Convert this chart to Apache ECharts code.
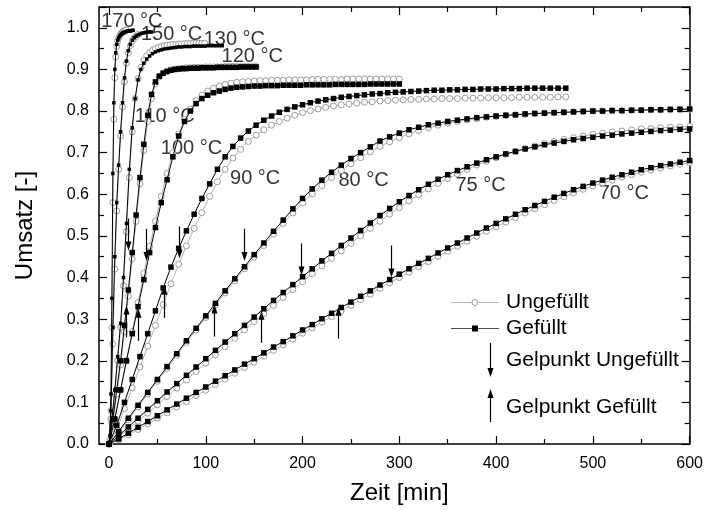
<!DOCTYPE html>
<html><head><meta charset="utf-8">
<script src="https://cdn.jsdelivr.net/npm/echarts@6/dist/echarts.min.js"></script>
<style>html,body{margin:0;padding:0;background:#fff}#chart{width:706px;height:510px}</style>
</head><body><div id="chart"></div>
<script>
// Conversion (Umsatz) over time (min) per cure temperature, unfilled vs. filled resin.
const tLong = [0,10,20,30,40,50,60,70,80,90,100,110,120,130,140,150,160,170,180,190,200,210,220,230,240,250,260,270,280,290,300,310,320,330,340,350,360,370,380,390,400,410,420,430,440,450,460,470,480,490,500,510,520,530,540,550,560,570,580,590,600];
const t170 = [0,1,2,3,4,5,6,7,8,9,10,11,12,13,14,15,16,17,18,19,20,21,22,23,24,25];
const t150 = [0,2,4,6,8,10,12,14,16,18,20,22,24,26,28,30,32,34,36,38,40,42,44];
const t130 = [0,3,6,9,12,15,18,21,24,27,30,33,36,39,42,45,48,51,54,57,60,63,66,69,72,75,78,81,84,87,90,93,96,99,102,105,108,111,114,117];
const t120 = [0,4,8,12,16,20,24,28,32,36,40,44,48,52,56,60,64,68,72,76,80,84,88,92,96,100,104,108,112,116,120,124,128,132,136,140,144,148,152];
const t110 = [0,6,12,18,24,30,36,42,48,54,60,66,72,78,84,90,96,102,108,114,120,126,132,138,144,150,156,162,168,174,180,186,192,198,204,210,216,222,228,234,240,246,252,258,264,270,276,282,288,294,300];
const t100 = [0,8,16,24,32,40,48,56,64,72,80,88,96,104,112,120,128,136,144,152,160,168,176,184,192,200,208,216,224,232,240,248,256,264,272,280,288,296,304,312,320,328,336,344,352,360,368,376,384,392,400,408,416,424,432,440,448,456,464,472];

// Gefüllt (filled)
const g170 = [0,0.02,0.12,0.35,0.65,0.82,0.9,0.94,0.96,0.97,0.976,0.98,0.983,0.985,0.987,0.988,0.989,0.99,0.991,0.992,0.992,0.993,0.993,0.993,0.994,0.994];
const g150 = [0,0.08,0.28,0.45,0.58,0.67,0.75,0.82,0.88,0.92,0.945,0.96,0.97,0.976,0.98,0.983,0.985,0.987,0.988,0.989,0.99,0.99,0.99];
const g130 = [0,0.06,0.13,0.21,0.29,0.4,0.53,0.66,0.76,0.83,0.875,0.9,0.915,0.925,0.932,0.938,0.942,0.945,0.947,0.949,0.95,0.951,0.952,0.953,0.954,0.954,0.955,0.955,0.955,0.956,0.956,0.956,0.956,0.956,0.957,0.957,0.957,0.957,0.957,0.957];
const g120 = [0,0.06,0.13,0.2,0.285,0.37,0.46,0.55,0.64,0.72,0.79,0.84,0.87,0.884,0.891,0.895,0.898,0.9,0.901,0.902,0.902,0.903,0.903,0.903,0.904,0.904,0.904,0.904,0.905,0.905,0.905,0.905,0.905,0.905,0.906,0.906,0.906,0.906,0.906];
const g110 = [0,0.06,0.13,0.2,0.265,0.33,0.395,0.46,0.52,0.58,0.635,0.69,0.74,0.775,0.8,0.818,0.83,0.838,0.844,0.848,0.852,0.855,0.857,0.858,0.859,0.86,0.86,0.861,0.861,0.861,0.862,0.862,0.862,0.862,0.863,0.863,0.863,0.863,0.863,0.864,0.864,0.864,0.864,0.864,0.864,0.865,0.865,0.865,0.865,0.865,0.865];
const g100 = [0,0.045,0.1,0.155,0.21,0.265,0.32,0.375,0.425,0.47,0.512,0.552,0.59,0.625,0.66,0.69,0.715,0.735,0.752,0.766,0.778,0.788,0.797,0.804,0.81,0.815,0.82,0.824,0.827,0.83,0.833,0.835,0.837,0.839,0.841,0.842,0.844,0.845,0.846,0.847,0.848,0.849,0.85,0.85,0.851,0.851,0.852,0.852,0.853,0.853,0.853,0.854,0.854,0.854,0.855,0.855,0.855,0.855,0.855,0.855];
const g90 = [0,0.03,0.062,0.093,0.124,0.155,0.186,0.217,0.248,0.278,0.308,0.338,0.368,0.397,0.426,0.455,0.483,0.511,0.538,0.565,0.59,0.613,0.634,0.653,0.67,0.686,0.7,0.714,0.728,0.738,0.747,0.755,0.761,0.767,0.771,0.775,0.778,0.781,0.784,0.786,0.788,0.79,0.791,0.793,0.794,0.795,0.796,0.797,0.798,0.799,0.8,0.8,0.801,0.801,0.802,0.802,0.803,0.803,0.804,0.804,0.805];
const g80 = [0,0.02,0.041,0.062,0.083,0.104,0.125,0.145,0.165,0.185,0.205,0.225,0.245,0.265,0.285,0.305,0.325,0.345,0.364,0.383,0.402,0.421,0.44,0.458,0.477,0.495,0.513,0.531,0.549,0.566,0.582,0.597,0.611,0.624,0.636,0.647,0.657,0.666,0.675,0.683,0.69,0.697,0.703,0.709,0.714,0.719,0.723,0.727,0.731,0.734,0.737,0.74,0.742,0.745,0.747,0.749,0.751,0.753,0.754,0.756,0.757];
const g70 = [0,0.012,0.026,0.04,0.054,0.068,0.082,0.096,0.11,0.124,0.137,0.151,0.164,0.178,0.192,0.205,0.219,0.233,0.246,0.26,0.274,0.287,0.301,0.314,0.328,0.341,0.355,0.368,0.382,0.395,0.408,0.421,0.434,0.446,0.459,0.471,0.483,0.495,0.507,0.519,0.53,0.541,0.552,0.563,0.573,0.583,0.593,0.602,0.611,0.619,0.627,0.634,0.641,0.647,0.653,0.659,0.664,0.669,0.673,0.677,0.681];

// Ungefüllt (unfilled)
const u170 = [0,0.01,0.08,0.28,0.58,0.78,0.88,0.93,0.955,0.968,0.976,0.981,0.985,0.988,0.99,0.992,0.993,0.994,0.995];
const u150 = [0,0.06,0.24,0.42,0.56,0.66,0.74,0.81,0.87,0.915,0.94,0.957,0.968,0.975,0.98,0.984];
const u130 = [0,0.05,0.12,0.2,0.28,0.38,0.51,0.64,0.75,0.83,0.878,0.905,0.922,0.933,0.941,0.946,0.95,0.953,0.955,0.957,0.958,0.959,0.96,0.96,0.961,0.961,0.962,0.962,0.962,0.963,0.963,0.963,0.963,0.963];
const u120 = [0,0.05,0.12,0.19,0.27,0.355,0.445,0.535,0.625,0.705,0.775,0.83,0.865,0.882,0.891,0.896,0.899,0.901,0.902,0.903,0.904,0.904,0.905,0.905,0.905,0.906,0.906,0.906,0.906,0.906,0.907,0.907,0.907,0.907,0.907,0.907,0.907,0.907,0.907];
const u110 = [0,0.06,0.13,0.2,0.27,0.34,0.41,0.475,0.535,0.595,0.65,0.7,0.745,0.78,0.805,0.825,0.838,0.848,0.855,0.86,0.864,0.867,0.869,0.87,0.871,0.872,0.873,0.873,0.874,0.874,0.874,0.875,0.875,0.875,0.875,0.876,0.876,0.876,0.876,0.876,0.876,0.877,0.877,0.877,0.877,0.877,0.877,0.877,0.877,0.877,0.877];
const u100 = [0,0.035,0.085,0.135,0.185,0.235,0.285,0.335,0.385,0.432,0.476,0.518,0.556,0.595,0.63,0.66,0.687,0.708,0.727,0.742,0.755,0.766,0.775,0.783,0.79,0.796,0.801,0.805,0.809,0.812,0.815,0.817,0.819,0.821,0.822,0.824,0.825,0.826,0.827,0.828,0.828,0.829,0.829,0.83,0.83,0.83,0.831,0.831,0.831,0.832,0.832,0.832,0.832,0.833,0.833,0.833,0.833,0.833,0.834,0.834];
const u90 = [0,0.027,0.058,0.089,0.12,0.151,0.182,0.213,0.244,0.274,0.304,0.334,0.363,0.392,0.421,0.449,0.477,0.504,0.53,0.555,0.579,0.601,0.621,0.64,0.657,0.673,0.688,0.702,0.715,0.726,0.736,0.745,0.753,0.76,0.766,0.771,0.775,0.779,0.782,0.785,0.787,0.789,0.791,0.792,0.794,0.795,0.796,0.797,0.798,0.799,0.8,0.8,0.801,0.801,0.802,0.802,0.803,0.803,0.803,0.804,0.804];
const u80 = [0,0.017,0.036,0.055,0.074,0.094,0.114,0.134,0.154,0.174,0.194,0.214,0.234,0.254,0.274,0.294,0.313,0.333,0.352,0.371,0.39,0.409,0.428,0.446,0.464,0.482,0.5,0.518,0.535,0.552,0.568,0.584,0.599,0.613,0.626,0.638,0.649,0.66,0.67,0.679,0.688,0.696,0.703,0.71,0.716,0.722,0.727,0.732,0.736,0.74,0.744,0.747,0.75,0.752,0.755,0.757,0.758,0.76,0.761,0.762,0.763];
const u70 = [0,0.01,0.022,0.035,0.048,0.062,0.075,0.089,0.102,0.116,0.129,0.143,0.156,0.17,0.184,0.197,0.211,0.225,0.238,0.252,0.266,0.279,0.293,0.306,0.32,0.333,0.347,0.36,0.374,0.387,0.4,0.413,0.426,0.438,0.451,0.463,0.475,0.487,0.499,0.511,0.522,0.533,0.544,0.555,0.565,0.575,0.585,0.594,0.603,0.612,0.62,0.627,0.634,0.641,0.647,0.653,0.658,0.663,0.668,0.672,0.676];

// Gel points (time, conversion at the arrow tip)
const gelFilledT = [18, 30, 57, 109, 157, 237];
const gelFilledU = [0.333, 0.325, 0.38, 0.335, 0.32, 0.33];
const gelUnfilledT = [20, 38, 72, 140, 198, 291];
const gelUnfilledU = [0.465, 0.44, 0.446, 0.44, 0.405, 0.40];

// Temperature labels: text and anchor (time, conversion)
const tempNames = ['170 °C','150 °C','130 °C','120 °C','110 °C','100 °C','90 °C','80 °C','75 °C','70 °C'];
const tempLabelT = [23.6, 64.7, 129.5, 148, 57.6, 85.3, 151, 263, 384, 532];
const tempLabelU = [1.014, 0.983, 0.971, 0.93, 0.786, 0.711, 0.639, 0.632, 0.622, 0.603];

const curves = [
  {t: t170, g: g170, u: u170, small: true},
  {t: t150, g: g150, u: u150, small: true},
  {t: t130, g: g130, u: u130, small: true},
  {t: t120, g: g120, u: u120},
  {t: t110, g: g110, u: u110},
  {t: t100, g: g100, u: u100},
  {t: tLong, g: g90, u: u90},
  {t: tLong, g: g80, u: u80},
  {t: tLong, g: g70, u: u70}
];

const FONT = 'Liberation Sans, Arial, Helvetica, sans-serif';
const G = {left: 109, right: 13, top: 7, bottom: 66};
const frameLeft = 99;

function pairs(ts, us) { return us.map((u, i) => [ts[i], u]); }

const series = [];
series.push({
  type: 'scatter', z: 1, silent: true, symbolSize: 0,
  data: tempNames.map((n, i) => ({value: [tempLabelT[i], tempLabelU[i]], name: n})),
  label: {show: true, position: 'inside', formatter: p => p.name, fontFamily: FONT, fontSize: 20, color: '#000'}
});
curves.forEach(c => {
  series.push({
    type: 'line', z: 2, silent: true, showAllSymbol: true, clip: false,
    data: pairs(c.t, c.u),
    symbol: 'circle', symbolSize: 6,
    itemStyle: {color: '#fff', borderColor: '#9c9c9c', borderWidth: 1},
    lineStyle: {color: '#b4b4b4', width: 1}
  });
});
curves.forEach(c => {
  series.push({
    type: 'line', z: 3, silent: true, showAllSymbol: true, clip: false,
    data: pairs(c.t, c.g),
    symbol: 'rect', symbolSize: c.small ? 3.5 : 5.5,
    itemStyle: {color: '#000'},
    lineStyle: {color: '#000', width: 1}
  });
});

// Gel point arrows: dir 1 = pointing up (filled), -1 = pointing down (unfilled)
const arrowData = gelFilledT.map((t, i) => [t, gelFilledU[i], 1])
  .concat(gelUnfilledT.map((t, i) => [t, gelUnfilledU[i], -1]));
series.push({
  type: 'custom', z: 4, silent: true, clip: false,
  data: arrowData,
  renderItem: (params, api) => {
    const p = api.coord([api.value(0), api.value(1)]);
    const d = api.value(2);
    const len = 32, hw = 3, hl = 9;
    const x = Math.round(p[0]) + 0.5, y = p[1];
    const s = d === 1 ? 1 : -1;
    return {
      type: 'group',
      children: [
        {type: 'line', shape: {x1: x, y1: y + s * len, x2: x, y2: y + s * (hl - 1)}, style: {stroke: '#000', lineWidth: 1.2}},
        {type: 'polygon', shape: {points: [[x - hw, y + s * hl], [x + hw, y + s * hl], [x, y]]}, style: {fill: '#000'}}
      ]
    };
  }
});

const axisLineStyle = {color: '#000', width: 1.5};
const tickStyle = {color: '#000', width: 1.2};
const option = {
  animation: false,
  backgroundColor: '#fff',
  grid: {left: G.left, right: G.right, top: G.top, bottom: G.bottom, containLabel: false},
  xAxis: [
    {type: 'value', min: 0, max: 600, interval: 100, position: 'bottom',
     axisLine: {show: true, onZero: false, lineStyle: axisLineStyle},
     axisTick: {show: true, inside: true, length: 8, lineStyle: tickStyle},
     minorTick: {show: true, splitNumber: 2, length: 5, lineStyle: tickStyle},
     splitLine: {show: false},
     axisLabel: {fontFamily: FONT, fontSize: 16, color: '#000', margin: 12},
     name: 'Zeit [min]', nameLocation: 'middle', nameGap: 37,
     nameTextStyle: {fontFamily: FONT, fontSize: 24, color: '#000'}},
    {type: 'value', min: 0, max: 600, interval: 100, position: 'top',
     axisLine: {show: true, onZero: false, lineStyle: axisLineStyle},
     axisTick: {show: true, inside: true, length: 8, lineStyle: tickStyle},
     minorTick: {show: true, splitNumber: 2, length: 5, lineStyle: tickStyle},
     splitLine: {show: false}, axisLabel: {show: false}}
  ],
  yAxis: [
    {type: 'value', min: 0, max: 1.05, interval: 0.1, position: 'left', offset: G.left - frameLeft,
     axisLine: {show: true, onZero: false, lineStyle: axisLineStyle},
     axisTick: {show: true, inside: true, length: 8, lineStyle: tickStyle},
     minorTick: {show: true, splitNumber: 2, length: 5, lineStyle: tickStyle},
     splitLine: {show: false},
     axisLabel: {fontFamily: FONT, fontSize: 16, color: '#000', margin: 10, showMaxLabel: false,
                 formatter: v => v.toFixed(1)},
     name: 'Umsatz [-]', nameLocation: 'middle', nameGap: 62,
     nameTextStyle: {fontFamily: FONT, fontSize: 24, color: '#000'}},
    {type: 'value', min: 0, max: 1.05, interval: 0.1, position: 'right',
     axisLine: {show: true, onZero: false, lineStyle: axisLineStyle},
     axisTick: {show: true, inside: true, length: 8, lineStyle: tickStyle},
     minorTick: {show: true, splitNumber: 2, length: 5, lineStyle: tickStyle},
     splitLine: {show: false}, axisLabel: {show: false}}
  ],
  series: series,
  graphic: [
    // frame segment between the offset left axis and the data origin
    {type: 'line', silent: true, shape: {x1: frameLeft, y1: 510 - G.bottom, x2: G.left, y2: 510 - G.bottom}, style: {stroke: '#000', lineWidth: 1.5}},
    {type: 'line', silent: true, shape: {x1: frameLeft, y1: G.top, x2: G.left, y2: G.top}, style: {stroke: '#000', lineWidth: 1.5}},
    // legend
    {type: 'line', shape: {x1: 451, y1: 302.5, x2: 499, y2: 302.5}, style: {stroke: '#bcbcbc', lineWidth: 1}},
    {type: 'circle', shape: {cx: 475, cy: 302.5, r: 3}, style: {fill: '#fff', stroke: '#9c9c9c', lineWidth: 1}},
    {type: 'text', style: {x: 506, y: 302, text: 'Ungefüllt', fontFamily: FONT, fontSize: 21, fill: '#000', verticalAlign: 'middle'}},
    {type: 'line', shape: {x1: 451, y1: 328.5, x2: 499, y2: 328.5}, style: {stroke: '#505050', lineWidth: 1}},
    {type: 'rect', shape: {x: 472, y: 325.5, width: 6, height: 6}, style: {fill: '#000'}},
    {type: 'text', style: {x: 506, y: 328, text: 'Gefüllt', fontFamily: FONT, fontSize: 21, fill: '#000', verticalAlign: 'middle'}},
    {type: 'line', shape: {x1: 490.5, y1: 343, x2: 490.5, y2: 370}, style: {stroke: '#000', lineWidth: 1.2}},
    {type: 'polygon', shape: {points: [[487.5, 368], [493.5, 368], [490.5, 377]]}, style: {fill: '#000'}},
    {type: 'text', style: {x: 506, y: 360, text: 'Gelpunkt Ungefüllt', fontFamily: FONT, fontSize: 21, fill: '#000', verticalAlign: 'middle'}},
    {type: 'line', shape: {x1: 490.5, y1: 422, x2: 490.5, y2: 397}, style: {stroke: '#000', lineWidth: 1.2}},
    {type: 'polygon', shape: {points: [[487.5, 398], [493.5, 398], [490.5, 389]]}, style: {fill: '#000'}},
    {type: 'text', style: {x: 506, y: 407, text: 'Gelpunkt Gefüllt', fontFamily: FONT, fontSize: 21, fill: '#000', verticalAlign: 'middle'}}
  ]
};

const chart = echarts.init(document.getElementById('chart'), null, {renderer: 'canvas'});
chart.setOption(option);
</script></body></html>
